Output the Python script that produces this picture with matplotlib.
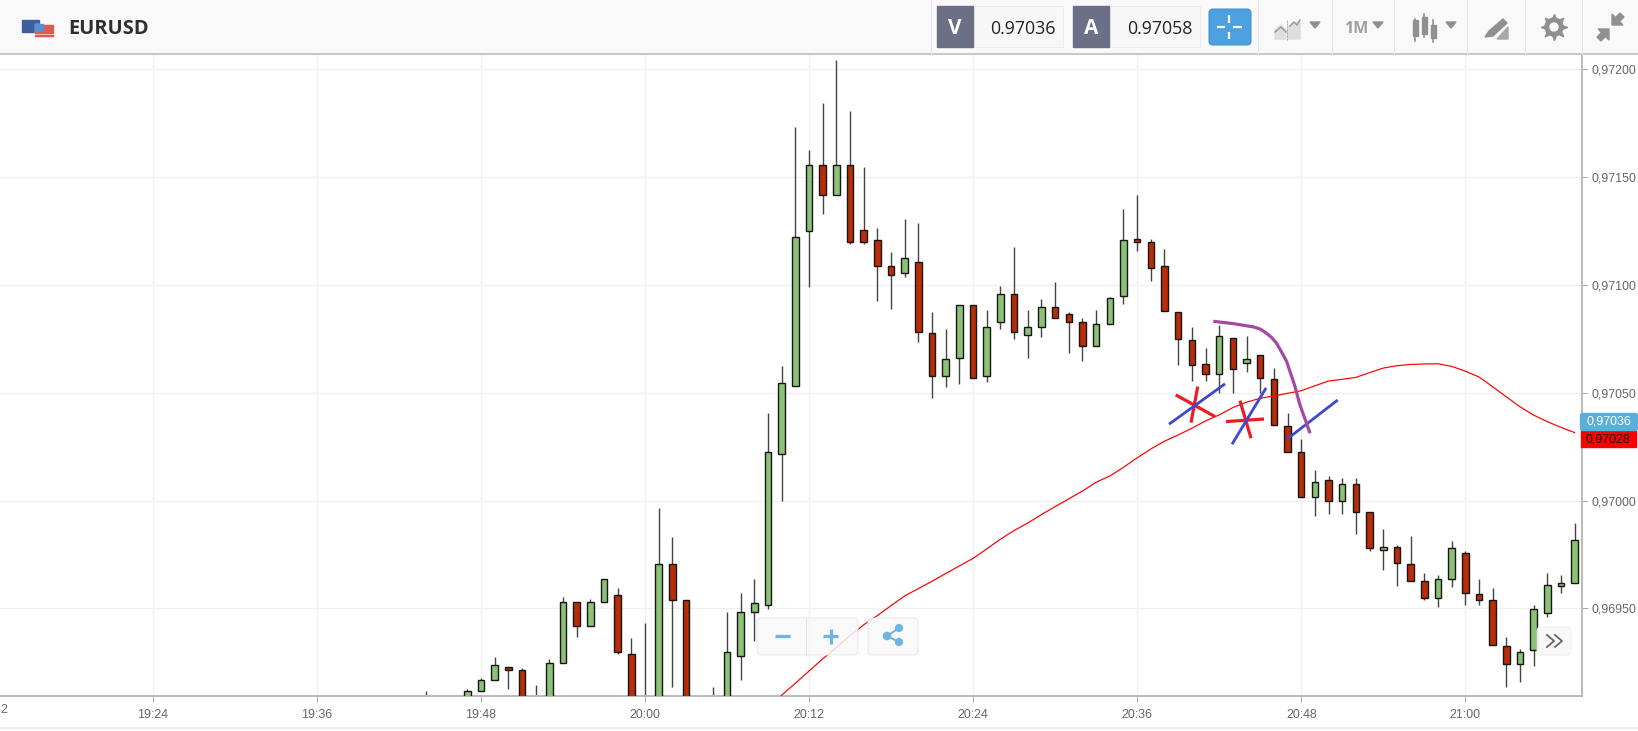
#!/usr/bin/python

import matplotlib
matplotlib.use('Agg')
import matplotlib.pyplot as plt
from matplotlib.patches import Rectangle, FancyBboxPatch, Polygon, Circle

# minutes counted from 20:00, one candle per minute
minutes = [-16, -13, -12, -11, -10, -9, -8, -7, -6, -5, -4, -3, -2, -1, 0, 1, 2, 3, 5, 6, 7, 8, 9, 10,
           11, 12, 13, 14, 15, 16, 17, 18, 19, 20, 21, 22, 23, 24, 25, 26, 27, 28, 29, 30,
           31, 32, 33, 34, 35, 36, 37, 38, 39, 40, 41, 42, 43, 44, 45, 46, 47, 48, 49, 50,
           51, 52, 53, 54, 55, 56, 57, 58, 59, 60, 61, 62, 63, 64, 65, 66, 67, 68]

opens = [0.96900, 0.96905, 0.969119, 0.969167, 0.969227, 0.969215, 0.96905, 0.96900, 0.969245, 0.969528,
         0.969418, 0.969528, 0.969564, 0.969289, 0.96905, 0.96900, 0.969706, 0.969537, 0.96905, 0.96900,
         0.969280, 0.969482, 0.969518, 0.970216,
         0.970530, 0.971249, 0.971557, 0.971415, 0.971557, 0.971254, 0.971208, 0.971087, 0.971056, 0.971104,
         0.970775, 0.970577, 0.970659, 0.970905, 0.970577, 0.970826, 0.970957, 0.970769, 0.970806, 0.970896,
         0.970864, 0.970826, 0.970717, 0.970817, 0.970947, 0.971213, 0.971197, 0.971087, 0.970874, 0.970743,
         0.970633, 0.970587, 0.970752, 0.970638, 0.970675, 0.970565, 0.970346, 0.970227, 0.970018, 0.970096,
         0.969997, 0.970076, 0.969946, 0.969773, 0.969785, 0.969706, 0.969628, 0.969547, 0.969637, 0.969757,
         0.969566, 0.969540, 0.969326, 0.969241, 0.969309, 0.969481, 0.969606, 0.969617]
highs = [0.969117, 0.969125, 0.969176, 0.969276, 0.969227, 0.969222, 0.969145, 0.969265, 0.969553, 0.969528,
         0.969542, 0.969636, 0.969593, 0.969364, 0.969431, 0.969964, 0.969832, 0.969537, 0.969134, 0.969485,
         0.969573, 0.969635, 0.970405, 0.970624,
         0.971731, 0.971625, 0.971841, 0.972042, 0.971805, 0.971544, 0.971263, 0.971153, 0.971305, 0.971285,
         0.970872, 0.970793, 0.970905, 0.970905, 0.970883, 0.970994, 0.971174, 0.970884, 0.970935, 0.971013,
         0.970873, 0.970845, 0.970884, 0.970945, 0.971352, 0.971415, 0.971211, 0.971165, 0.970874, 0.970805,
         0.970706, 0.970814, 0.970752, 0.970763, 0.970675, 0.970613, 0.970405, 0.970284, 0.970142, 0.970116,
         0.970103, 0.970103, 0.969946, 0.969867, 0.969793, 0.969836, 0.969663, 0.969657, 0.969813, 0.969765,
         0.969635, 0.969594, 0.969367, 0.969311, 0.969515, 0.969663, 0.969657, 0.969896]
lows = [0.96895, 0.96900, 0.969119, 0.969167, 0.969125, 0.96895, 0.96895, 0.96895, 0.969245, 0.969366,
        0.969418, 0.969528, 0.969287, 0.96895, 0.96895, 0.96895, 0.969137, 0.96890, 0.96895, 0.96895,
        0.969169, 0.969351, 0.969496, 0.969998,
        0.970530, 0.970988, 0.971328, 0.971415, 0.971187, 0.971187, 0.970926, 0.970889, 0.971035, 0.970736,
        0.970474, 0.970528, 0.970539, 0.970566, 0.970549, 0.970793, 0.970747, 0.970660, 0.970760, 0.970847,
        0.970686, 0.970649, 0.970717, 0.970817, 0.970910, 0.971155, 0.971020, 0.970879, 0.970629, 0.970556,
        0.970556, 0.970500, 0.970497, 0.970596, 0.970497, 0.970348, 0.970227, 0.970018, 0.969930, 0.969938,
        0.969938, 0.969845, 0.969767, 0.969679, 0.969606, 0.969626, 0.969540, 0.969506, 0.969601, 0.969518,
        0.969518, 0.969330, 0.969138, 0.969158, 0.969231, 0.969459, 0.969570, 0.969617]
closes = [0.96905, 0.969117, 0.969168, 0.969236, 0.969213, 0.96890, 0.96900, 0.969247, 0.969528, 0.969418,
          0.969528, 0.969636, 0.969298, 0.96890, 0.96900, 0.969706, 0.969537, 0.96890, 0.96900, 0.969298,
          0.969485, 0.969527, 0.970227, 0.970544,
          0.971223, 0.971557, 0.971416, 0.971557, 0.971197, 0.971197, 0.971087, 0.971045, 0.971124, 0.970780,
          0.970577, 0.970654, 0.970905, 0.970566, 0.970806, 0.970957, 0.970780, 0.970806, 0.970896, 0.970847,
          0.970826, 0.970717, 0.970817, 0.970938, 0.971208, 0.971200, 0.971077, 0.970879, 0.970748, 0.970629,
          0.970587, 0.970765, 0.970609, 0.970655, 0.970567, 0.970348, 0.970227, 0.970018, 0.970086, 0.969997,
          0.970076, 0.969949, 0.969779, 0.969785, 0.969711, 0.969626, 0.969547, 0.969638, 0.969779, 0.969570,
          0.969538, 0.969330, 0.969241, 0.969299, 0.969498, 0.969608, 0.969617, 0.969816]

# moving average, same minute scale, starts at 20:09
ma_minutes = list(range(9, 69))
ma_values = [0.96899, 0.969098, 0.969153, 0.969210, 0.969266, 0.969319, 0.969374, 0.969424, 0.969467, 0.969513,
             0.969558, 0.969592, 0.969626, 0.969662, 0.969697, 0.969732, 0.969776, 0.969821, 0.969861, 0.969896,
             0.969935, 0.969972, 0.970008, 0.970044, 0.970085, 0.970114, 0.970154, 0.970198, 0.970239, 0.970275,
             0.970304, 0.970335, 0.970369, 0.970397, 0.970431, 0.970456, 0.970474, 0.970485, 0.970497, 0.970509,
             0.970532, 0.970554, 0.970562, 0.970571, 0.970593, 0.970614, 0.970625, 0.970631, 0.970633, 0.970634,
             0.970622, 0.970600, 0.970573, 0.970528, 0.970481, 0.970435, 0.970396, 0.970366, 0.970339, 0.970315]

# hand drawn marks on the chart
purple_t = [41.57, 43.04, 44.50, 45.00, 45.47, 45.85, 46.20, 46.55, 46.94, 47.55, 47.91, 48.65]
purple_v = [0.970831, 0.970820, 0.970805, 0.970795, 0.970775, 0.970755, 0.970729, 0.970690, 0.970644, 0.970528,
            0.970443, 0.970312]
blue_t = [[38.33, 42.43], [42.94, 45.43], [46.99, 50.67]]
blue_v = [[0.970354, 0.970541], [0.970261, 0.970522], [0.970286, 0.970466]]
red_t = [[38.82, 41.70], [40.43, 39.94], [42.50, 45.28], [43.52, 44.33]]
red_v = [[0.970490, 0.970389], [0.970528, 0.970361], [0.970366, 0.970378], [0.970463, 0.970289]]

x_ticks = [-36, -24, -12, 0, 12, 24, 36, 48, 60]
x_labels = ['19:24', '19:36', '19:48', '20:00', '20:12', '20:24', '20:36', '20:48', '21:00']
y_ticks = [0.9695, 0.9700, 0.9705, 0.9710, 0.9715, 0.9720]
y_labels = ['0,96950', '0,97000', '0,97050', '0,97100', '0,97150', '0,97200']

GREEN = '#8cc276'
RED = '#b92c08'
GREY = '#666666'
TICK_FONT = 'Liberation Sans'
TICK_SIZE = 8.9
px = 0.72  # one pixel in points at dpi 100

W, H = 1638, 731
fig = plt.figure(figsize=(W / 100, H / 100), dpi=100, facecolor='white')

ax = fig.add_axes([0, (H - 696) / H, 1582 / W, (696 - 54) / H])
ax.set_xlim(-47.18, 68.54)
ax.set_ylim(0.969094, 0.97207)
ax.set_axisbelow(True)
ax.grid(True, color='#f0f0f0', linewidth=1.3 * px)
ax.set_xticks(x_ticks)
ax.set_xticklabels(x_labels, fontname=TICK_FONT, fontsize=TICK_SIZE, color=GREY)
ax.set_yticks(y_ticks)
ax.set_yticklabels(y_labels, fontname=TICK_FONT, fontsize=TICK_SIZE, color=GREY)
ax.yaxis.tick_right()
ax.tick_params(axis='x', length=4, width=px, color='#aaaaaa', pad=5)
ax.tick_params(axis='y', length=4, width=px, color='#aaaaaa', pad=2.5)
for side in ['top', 'left']:
    ax.spines[side].set_visible(False)
for side in ['bottom', 'right']:
    ax.spines[side].set_color('#bbbbbb')
    ax.spines[side].set_linewidth(2 * px)

# candles
bar_colors = [GREEN if c >= o else RED for o, c in zip(opens, closes)]
bottoms = [min(o, c) for o, c in zip(opens, closes)]
sizes = [abs(c - o) for o, c in zip(opens, closes)]
ax.vlines(minutes, lows, highs, color='#444444', linewidth=1.4 * px, zorder=2)
ax.bar(minutes, sizes, bottom=bottoms, width=0.48, color=bar_colors, edgecolor='#161616',
       linewidth=1.4 * px, zorder=3)

ax.plot(ma_minutes, ma_values, color='#ff0000', linewidth=1.2 * px, zorder=4)

for t, v in zip(red_t, red_v):
    ax.plot(t, v, color='#ed1c24', linewidth=3.2 * px, zorder=5, solid_capstyle='butt')
for t, v in zip(blue_t, blue_v):
    ax.plot(t, v, color='#3f48cc', linewidth=2.8 * px, zorder=5, solid_capstyle='butt')
ax.plot(purple_t, purple_v, color='#a349a4', linewidth=3.2 * px, zorder=5, solid_capstyle='butt')

# page furniture, in screen pixels
ui = fig.add_axes([0, 0, 1, 1], facecolor='none', zorder=10)
ui.set_xlim(0, W)
ui.set_ylim(H, 0)
ui.axis('off')

# last digit of the 19:12 label, the rest is off the page
ui.text(0, 710, '2', ha='left', va='center', fontname=TICK_FONT, fontsize=TICK_SIZE, color=GREY)

ui.add_patch(Rectangle((0, 0), W, 54, color='#f9f9f9', zorder=1))
ui.plot([0, W], [54, 54], color='#bdbdbd', linewidth=1.6 * px, zorder=2)
ui.plot([0, W], [728, 728], color='#eaeaea', linewidth=1.5 * px, zorder=2)
for x in [931, 1258, 1332, 1394, 1467, 1525, 1582]:
    ui.plot([x, x], [0, 54], color='#e4e4e4', linewidth=px, zorder=2)

# flags
ui.add_patch(Rectangle((21.5, 20), 17.5, 12, color='#3f5e9e', zorder=3))
ui.add_patch(Rectangle((35, 24), 17.5, 12.5, color='#f8f0f0', zorder=4))
for y in [25, 28, 31, 34.5]:
    ui.add_patch(Rectangle((35, y), 17.5, 1.5, color='#dd5a55', zorder=5))
ui.add_patch(Rectangle((35, 24), 8, 6.5, color='#5a8fd0', zorder=6))
ui.text(68, 29, 'EURUSD', fontname='Open Sans', fontweight='bold', fontsize=14.4, color='#2f2f2f',
        va='center', ha='left', zorder=3)

# bid and ask boxes
for x0, x1, x2, cx, letter, value in [(937, 973, 1063, 1023, 'V', '0.97036'), (1073, 1109, 1200, 1160, 'A', '0.97058')]:
    ui.add_patch(Rectangle((x0, 6), x2 - x0, 41, facecolor='#f7f7f7', edgecolor='#ececec', linewidth=px, zorder=3))
    ui.add_patch(Rectangle((x0, 6), x1 - x0, 41, color='#6c7086', zorder=4))
    ui.text((x0 + x1) / 2, 29, letter, color='white', fontname='Open Sans', fontweight='bold', fontsize=15,
            ha='center', va='center', zorder=5)
    ui.text(cx, 28.5, value, color='#222222', fontname='Open Sans', fontsize=12.8,
            ha='center', va='center', zorder=5)

# crosshair button
ui.add_patch(FancyBboxPatch((1211, 11), 38, 32, boxstyle='round,pad=2,rounding_size=4', facecolor='#4ea1e0',
                            edgecolor='#3f8fcc', linewidth=px, zorder=3))
for xs, ys in [([1217, 1225], [27, 27]), ([1233, 1242], [27, 27]), ([1229, 1229], [15, 23]), ([1229, 1229], [32, 39])]:
    ui.plot(xs, ys, color='white', linewidth=2.2 * px, zorder=4, solid_capstyle='butt')

# toolbar icons
ICON = '#8f9092'
ui.add_patch(Polygon([(1275, 39), (1275, 30), (1281, 25), (1286, 30), (1286, 39)], color='#dedede', zorder=3))
ui.add_patch(Polygon([(1288, 39), (1288, 27), (1293, 24), (1300, 21), (1300, 39)], color='#dedede', zorder=3))
ui.plot([1275, 1281, 1286], [32, 27, 32], color='#9a9a9a', linewidth=1.5 * px, zorder=4)
ui.plot([1290, 1294, 1297, 1300], [26, 22, 25, 20], color='#9a9a9a', linewidth=1.5 * px, zorder=4)
ui.plot([1287, 1287], [20, 40], color='#a8a8a8', linewidth=px, ls=(0, (2, 1)), zorder=4)
ui.text(1356, 29, '1M', color='#a0a0a0', fontname='Open Sans', fontweight='bold', fontsize=11.5,
        ha='center', va='center', zorder=3)
for cx in [1315, 1378, 1451]:
    ui.add_patch(Polygon([(cx - 5, 22), (cx + 5, 22), (cx, 28)], color=ICON, zorder=3))
for cx, top, bot, wt, wb in [(1415, 20, 36, 19, 41), (1424, 17, 34, 14, 37), (1433, 25, 38, 20, 42)]:
    ui.plot([cx, cx], [wt, wb], color=ICON, linewidth=1.6 * px, zorder=3)
    ui.add_patch(Rectangle((cx - 2.5, top), 5, bot - top, color=ICON, zorder=4))

# pencil over rising bars
ui.add_patch(Polygon([(1485, 37), (1489, 31), (1503, 19), (1507, 23), (1493, 36)], color=ICON, zorder=3))
ui.add_patch(Polygon([(1497, 39), (1508, 27), (1508, 39)], color='#a8a8a8', zorder=3))

# gear
ui.plot([1554], [27], marker=(8, 1, 0), markersize=19, color=ICON, linestyle='none', zorder=3)
ui.add_patch(Circle((1554, 27), 9, color=ICON, zorder=4))
ui.add_patch(Circle((1554, 27), 4, color='#f9f9f9', zorder=5))

# compress arrows, both heads point at the middle
ui.add_patch(Polygon([(1612, 25), (1612, 14), (1615.5, 17.5), (1620, 13), (1624, 17), (1619.5, 21.5), (1623, 25)],
                     color=ICON, zorder=3))
ui.add_patch(Polygon([(1609, 29), (1609, 40), (1605.5, 36.5), (1601, 41), (1597, 37), (1601.5, 32.5), (1598, 29)],
                     color=ICON, zorder=3))

# price tags on the axis
ui.add_patch(Rectangle((1581, 430), 55, 17, color='#ff0000', zorder=3))
ui.text(1608, 439, '0,97028', color='#111111', fontname=TICK_FONT, fontsize=TICK_SIZE, ha='center', va='center', zorder=4)
ui.add_patch(FancyBboxPatch((1582, 415), 54, 14, boxstyle='round,pad=1.5,rounding_size=2', color='#5ab0dd', zorder=5))
ui.text(1609, 422, '0,97036', color='white', fontname=TICK_FONT, fontsize=TICK_SIZE, ha='center', va='center', zorder=6)

# zoom and share buttons
for x0, x1 in [(758, 857), (869, 917)]:
    ui.add_patch(FancyBboxPatch((x0, 619), x1 - x0, 35, boxstyle='round,pad=1,rounding_size=4', facecolor='#f8f8f8',
                                edgecolor='#e6e6e6', linewidth=px, alpha=0.85, zorder=3))
ui.plot([806, 806], [619, 655], color='#e2e2e2', linewidth=px, zorder=4)
BTN = '#6fb4e2'
ui.plot([775, 790], [636, 636], color=BTN, linewidth=3.2 * px, zorder=4, solid_capstyle='butt')
ui.plot([823, 838], [636, 636], color=BTN, linewidth=3.2 * px, zorder=4, solid_capstyle='butt')
ui.plot([830.5, 830.5], [628.5, 643.5], color=BTN, linewidth=3.2 * px, zorder=4, solid_capstyle='butt')
ui.plot([899, 887, 899], [628, 636, 642], color=BTN, linewidth=2 * px, zorder=4)
for cx, cy, r in [(899, 628, 3.4), (887, 636, 3.6), (899, 642, 3.4)]:
    ui.add_patch(Circle((cx, cy), r, color=BTN, zorder=5))

ui.add_patch(FancyBboxPatch((1538, 628), 32, 26, boxstyle='round,pad=1,rounding_size=4', facecolor='#f8f8f8',
                            edgecolor='#eeeeee', linewidth=px, alpha=0.9, zorder=3))
for x in [1547, 1555]:
    ui.plot([x, x + 7, x], [635, 641, 647], color='#666666', linewidth=1.8 * px, zorder=4)

fig.savefig('out.png', dpi=100)
